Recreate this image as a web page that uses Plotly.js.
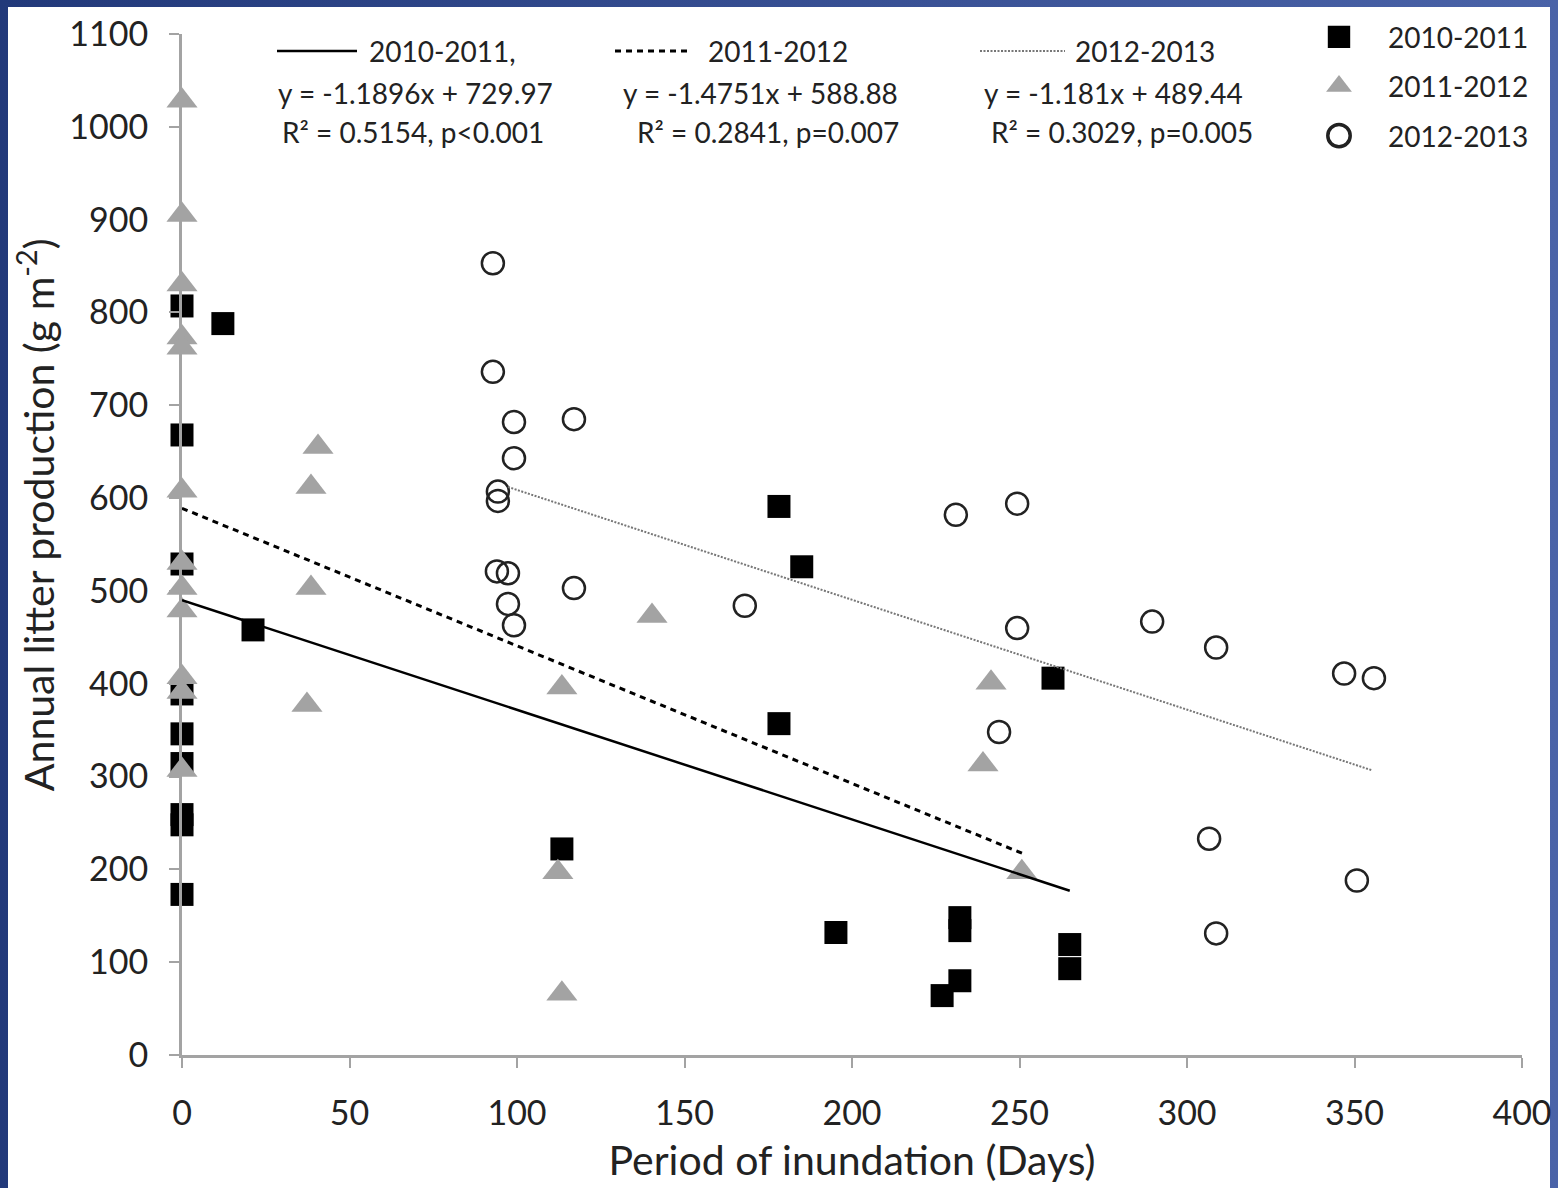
<!DOCTYPE html>
<html>
<head>
<meta charset="utf-8">
<script src="https://cdn.plot.ly/plotly-3.0.1.min.js"></script>
<style>
  html, body { margin: 0; padding: 0; width: 1558px; height: 1188px; overflow: hidden;
    background: linear-gradient(to right, #22397a, #3a5296 60%, #4a63a8); }
  #white { position: absolute; left: 8px; top: 7px; width: 1542px; height: 1181px; background: #fff; }
  #chart { position: absolute; left: 0; top: 0; width: 1558px; height: 1188px; }
</style>
</head>
<body>
<div id="white"></div>
<div id="chart"></div>
<script>
// ---- data ----
const seriesNames = ["2010-2011", "2011-2012", "2012-2013"];

const x2010 = [0, 0, 0, 0, 0, 0, 0, 0, 0, 12.2, 21.2, 178.2, 185, 178.2, 113.4, 195.2, 226.9, 232.2, 232.2, 232.2, 265, 265, 260];
const y2010 = [807, 668, 529, 389, 346, 314, 259, 248, 173, 788, 458, 591, 526, 357, 222, 132, 64, 148, 134, 80, 119, 93, 406];

const x2011 = [0, 0, 0, 0, 0, 0, 0, 0, 0, 0, 0, 0, 40.6, 38.5, 38.5, 37.3, 140.3, 113.4, 112.2, 113.4, 241.5, 239.1, 250.7];
const y2011 = [1028, 905, 830, 773, 762, 608, 530, 503, 479, 407, 391, 307, 655, 612, 503, 377, 473, 396, 197, 66, 401, 313, 197];

const x2012 = [92.8, 92.8, 99.1, 117, 99.1, 94.3, 94.3, 94.0, 97.3, 97.3, 99.1, 117, 168, 231, 249.3, 249.3, 243.9, 289.6, 308.7, 346.9, 355.8, 306.6, 350.7, 308.7];
const y2012 = [853, 736, 682, 685, 643, 607, 597, 521, 519, 486, 463, 503, 484, 582, 594, 460, 348, 467, 439, 411, 406, 233, 188, 131];

// trend line end points (as drawn)
const trend2010x = [0, 265];
const trend2010y = [490, 177];
const trend2011x = [0, 251];
const trend2011y = [589, 217];
const trend2012x = [97.3, 355];
const trend2012y = [612, 307];

const trendLabels = [
  ["2010-2011,", "y = -1.1896x + 729.97", "R\u00B2 = 0.5154, p<0.001"],
  ["2011-2012", "y = -1.4751x + 588.88", "R\u00B2 = 0.2841, p=0.007"],
  ["2012-2013", "y = -1.181x + 489.44", "R\u00B2 = 0.3029, p=0.005"]
];

const xTicks = [0, 50, 100, 150, 200, 250, 300, 350, 400];
const yTicks = [0, 100, 200, 300, 400, 500, 600, 700, 800, 900, 1000, 1100];

// ---- drawing ----
const FONT = "Lato, 'Open Sans', sans-serif";
const GREY = "#a3a3a3";

const traces = [
  { x: x2010, y: y2010, type: "scatter", mode: "markers", name: seriesNames[0],
    legendgroup: "a", cliponaxis: false,
    marker: { symbol: "square", size: 23, color: "#000" } },
  { x: x2011, y: y2011, type: "scatter", mode: "markers", name: seriesNames[1],
    legendgroup: "b", cliponaxis: false,
    marker: { symbol: "triangle-up", size: 27, color: GREY } },
  { x: x2012, y: y2012, type: "scatter", mode: "markers", name: seriesNames[2],
    legendgroup: "c", cliponaxis: false,
    marker: { symbol: "circle-open", size: 22, color: "#222", line: { width: 2.5, color: "#222" } } },
  { x: trend2010x, y: trend2010y, type: "scatter", mode: "lines", showlegend: false,
    line: { color: "#000", width: 2.5 } },
  { x: trend2011x, y: trend2011y, type: "scatter", mode: "lines", showlegend: false,
    line: { color: "#000", width: 3, dash: "6px,5px" } },
  { x: trend2012x, y: trend2012y, type: "scatter", mode: "lines", showlegend: false,
    line: { color: "#777", width: 2, dash: "2px,1.5px" } }
];

// pixel helpers for annotation placement (plot area 182..1522 x, 28..1055 y in page)
const px = v => (v - 182) / 1340;
const py = v => (1055 - v) / 1027;

const annotations = [];
const headX = [367, 706, 1073];
const eqX = [415, 760, 1113];
const rX = [413, 768, 1122];
for (let i = 0; i < 3; i++) {
  annotations.push({ xref: "paper", yref: "paper", x: px(headX[i]), y: py(45), xanchor: "left", yanchor: "middle",
    text: trendLabels[i][0], showarrow: false, font: { family: FONT, size: 28, color: "#222" } });
  annotations.push({ xref: "paper", yref: "paper", x: px(eqX[i]), y: py(87), xanchor: "center", yanchor: "middle",
    text: trendLabels[i][1], showarrow: false, font: { family: FONT, size: 28, color: "#222" } });
  annotations.push({ xref: "paper", yref: "paper", x: px(rX[i]), y: py(127), xanchor: "center", yanchor: "middle",
    text: trendLabels[i][2], showarrow: false, font: { family: FONT, size: 28, color: "#222" } });
}
annotations.push({ xref: "paper", yref: "paper", x: px(36), y: py(512), xanchor: "center", yanchor: "middle",
  textangle: -90, text: "Annual litter production (g m<sup>-2</sup>)", showarrow: false,
  font: { family: FONT, size: 41, color: "#222" } });

const shapes = [
  { type: "line", xref: "paper", yref: "paper", x0: px(277), x1: px(357), y0: py(45), y1: py(45),
    line: { color: "#000", width: 2.5 } },
  { type: "line", xref: "paper", yref: "paper", x0: px(615), x1: px(690), y0: py(45), y1: py(45),
    line: { color: "#000", width: 3, dash: "6px,5px" } },
  { type: "line", xref: "paper", yref: "paper", x0: px(980), x1: px(1065), y0: py(45), y1: py(45),
    line: { color: "#777", width: 2, dash: "2px,1.5px" } }
];

const layout = {
  width: 1558, height: 1188,
  margin: { l: 182, r: 36, t: 28, b: 133 },
  paper_bgcolor: "rgba(0,0,0,0)", plot_bgcolor: "rgba(0,0,0,0)",
  font: { family: FONT, color: "#222" },
  showlegend: true,
  legend: { x: px(1318), y: py(6), xanchor: "left", yanchor: "top", itemwidth: 60,
    font: { family: FONT, size: 28, color: "#222" }, bgcolor: "rgba(0,0,0,0)",
    traceorder: "grouped", tracegroupgap: 10 },
  xaxis: {
    range: [0, 400], tickvals: xTicks, ticktext: xTicks.map(String),
    showgrid: false, zeroline: false, showline: true, linecolor: GREY, linewidth: 3,
    ticks: "outside", ticklen: 10, tickwidth: 2, tickcolor: GREY, ticklabeloverflow: "allow",
    tickfont: { family: FONT, size: 34, color: "#222" }, ticklabelstandoff: 16,
    title: { text: "Period of inundation (Days)", font: { family: FONT, size: 41, color: "#222" }, standoff: 16 }
  },
  yaxis: {
    range: [0, 1100], tickvals: yTicks, ticktext: yTicks.map(String),
    showgrid: false, zeroline: false, showline: true, linecolor: GREY, linewidth: 3,
    ticks: "outside", ticklen: 10, tickwidth: 2, tickcolor: GREY,
    tickfont: { family: FONT, size: 34, color: "#222" }, ticklabelstandoff: 14
  },
  annotations: annotations,
  shapes: shapes
};

Plotly.newPlot("chart", traces, layout, { displayModeBar: false, staticPlot: true }).then(gd => {
  // enlarge legend symbols and place them like the reference's legend
  gd.querySelectorAll(".legend .legendpoints path.scatterpts").forEach(p => {
    const t = p.getAttribute("transform") || "";
    p.setAttribute("transform", t + " translate(-14,0) scale(1.4)");
  });
});
</script>
</body>
</html>
